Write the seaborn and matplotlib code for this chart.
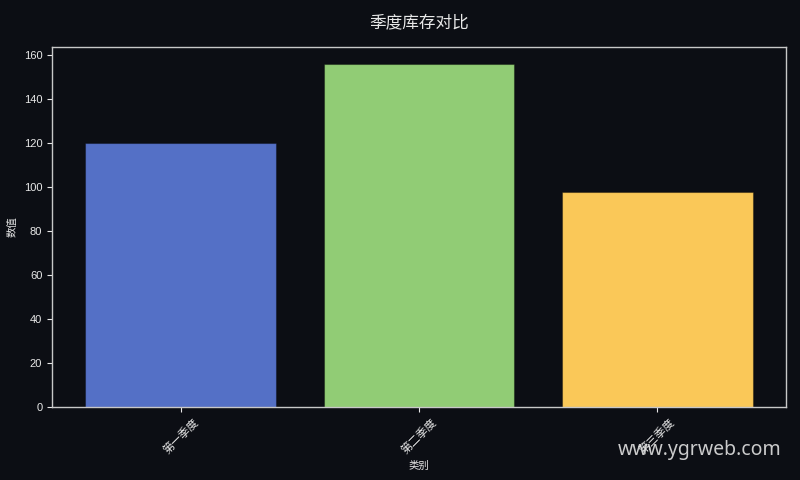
import matplotlib
matplotlib.use('Agg')
import matplotlib.pyplot as plt
import seaborn as sns
import pandas as pd

# data
categories = ['第一季度', '第二季度', '第三季度']
values = [120, 156, 98]
colors = ['#5470c6', '#91cc75', '#fac858']

bg = '#0c0e14'
fg = '#e8e8e8'

sns.set_style('dark')
plt.rcParams['font.family'] = ['Liberation Sans', 'Noto Sans CJK SC', 'DejaVu Sans']
plt.rcParams['axes.unicode_minus'] = False

df = pd.DataFrame({'类别': categories, '数值': values})

fig = plt.figure(figsize=(8, 4.8), dpi=100, facecolor=bg)
ax = fig.add_axes([0.065, 0.152, 0.9175, 0.75])
ax.set_facecolor(bg)

sns.barplot(data=df, x='类别', y='数值', hue='类别', palette=colors,
            legend=False, width=0.8, saturation=1, ax=ax,
            edgecolor=(0, 0, 0, 0.35), linewidth=0.8)
ax.set_xlim(-0.54, 2.54)

ax.set_title('季度库存对比', color=fg, fontsize=12, pad=14)
ax.set_xlabel('类别', color=fg, fontsize=7.5)
ax.set_ylabel('数值', color=fg, fontsize=7.5)
ax.tick_params(axis='both', colors=fg, labelsize=8, length=3.5, width=0.8,
               left=True, bottom=True)
plt.setp(ax.get_xticklabels(), rotation=45)
for s in ax.spines.values():
    s.set_color('#c8c8c8')
    s.set_linewidth(1)
ax.grid(False)

fig.text(0.977, 0.063, 'www.ygrweb.com', color='#e0e0e0', fontsize=14,
         family=['Noto Sans', 'DejaVu Sans'], ha='right', va='center', alpha=0.9)

fig.savefig('out.png', facecolor=bg, dpi=100)
